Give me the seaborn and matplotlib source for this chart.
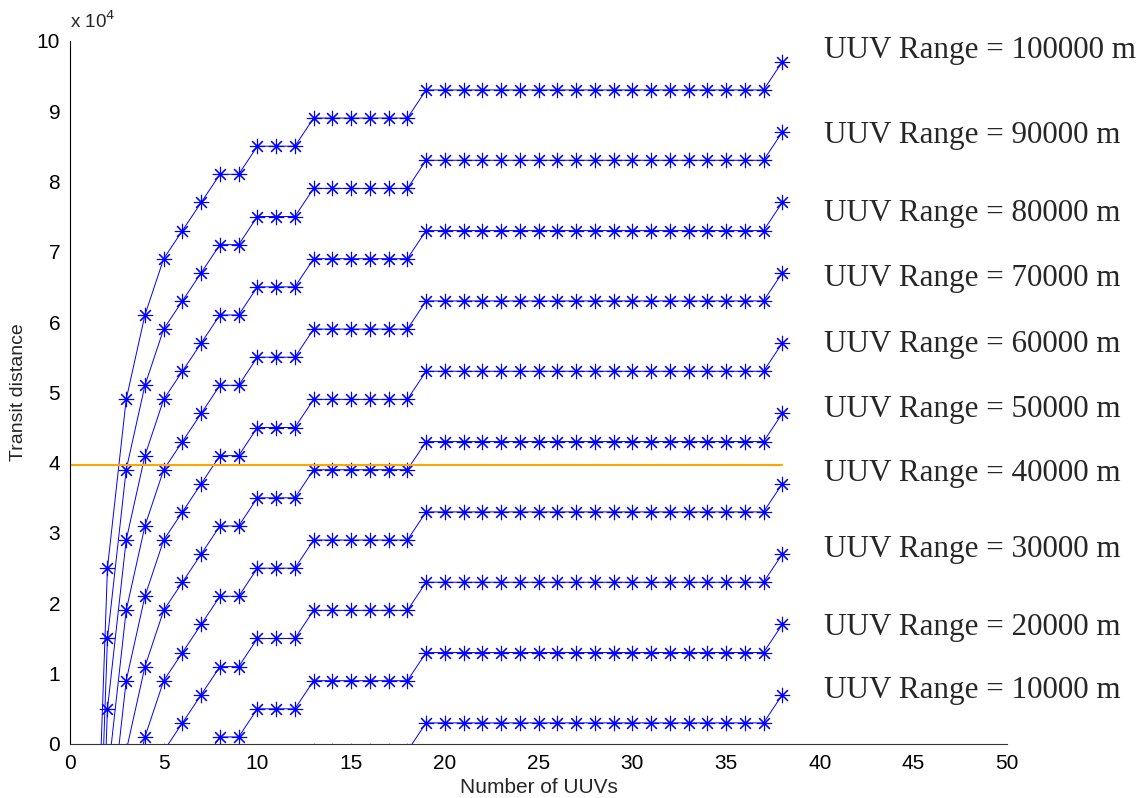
import numpy as np
import pandas as pd
import seaborn as sns
import matplotlib.pyplot as plt

# number of UUVs on the x axis
n_uuvs = list(range(1, 39))

# distance lost to the search pattern for each fleet size
shortfall = [150000, 75000, 51000, 39000, 31000, 27000, 23000, 19000, 19000,
             15000, 15000, 15000,
             11000, 11000, 11000, 11000, 11000, 11000,
             7000, 7000, 7000, 7000, 7000, 7000, 7000, 7000, 7000, 7000,
             7000, 7000, 7000, 7000, 7000, 7000, 7000, 7000, 7000,
             3000]

uuv_ranges = [100000, 90000, 80000, 70000, 60000,
              50000, 40000, 30000, 20000, 10000]

# required transit distance (orange reference line)
required_distance = 39700
required_n = [0, 38]

label_y = [97540, 85455, 74364, 65122, 55737, 46495, 37324, 26518, 15498, 6469]

rows = []
for r in uuv_ranges:
    for n, s in zip(n_uuvs, shortfall):
        rows.append({'n': n, 'dist': r - s, 'range': r})
df = pd.DataFrame(rows)

sns.set_style('white')
plt.rcParams['font.family'] = ['Liberation Sans', 'DejaVu Sans']

fig = plt.figure(figsize=(11.45, 7.98), dpi=100)
ax = fig.add_axes([0.0611, 0.0677, 0.8186, 0.8813])

sns.lineplot(data=df, x='n', y='dist', units='range', estimator=None,
             color='#0000ff', lw=0.7, marker=(8, 2, 0), markersize=11,
             markeredgewidth=0.8, markeredgecolor='#0000ff', ax=ax,
             legend=False)
sns.lineplot(x=required_n, y=[required_distance] * 2, color='#ffa500',
             lw=1.5, ax=ax)

ax.set_xlim(0, 50)
ax.set_ylim(0, 100000)
ax.set_xticks(range(0, 51, 5))
ax.set_yticks(range(0, 100001, 10000))
ax.set_yticklabels([str(v) for v in range(0, 11)])
ax.tick_params(direction='in', length=7, width=0.8, labelsize=15, pad=7,
               colors='#222222', labelcolor='black')
sns.despine(ax=ax)
ax.spines['left'].set_color('black')
ax.spines['bottom'].set_color('#333333')
ax.spines['left'].set_linewidth(0.8)
ax.spines['bottom'].set_linewidth(0.8)

ax.set_xlabel('Number of UUVs', fontsize=15, labelpad=4)
ax.set_ylabel('Transit distance', fontsize=14, labelpad=7)
ax.text(0.0, 1.012, r'x 10$^4$', transform=ax.transAxes, fontsize=13.5,
        ha='left', va='bottom')

for r, y in zip(uuv_ranges, label_y):
    ax.text(40.23, y, f'UUV Range = {r} m', fontsize=22.4,
            family=['Liberation Serif', 'DejaVu Serif'],
            ha='left', va='baseline', clip_on=False)

fig.savefig('out.png', dpi=100)
